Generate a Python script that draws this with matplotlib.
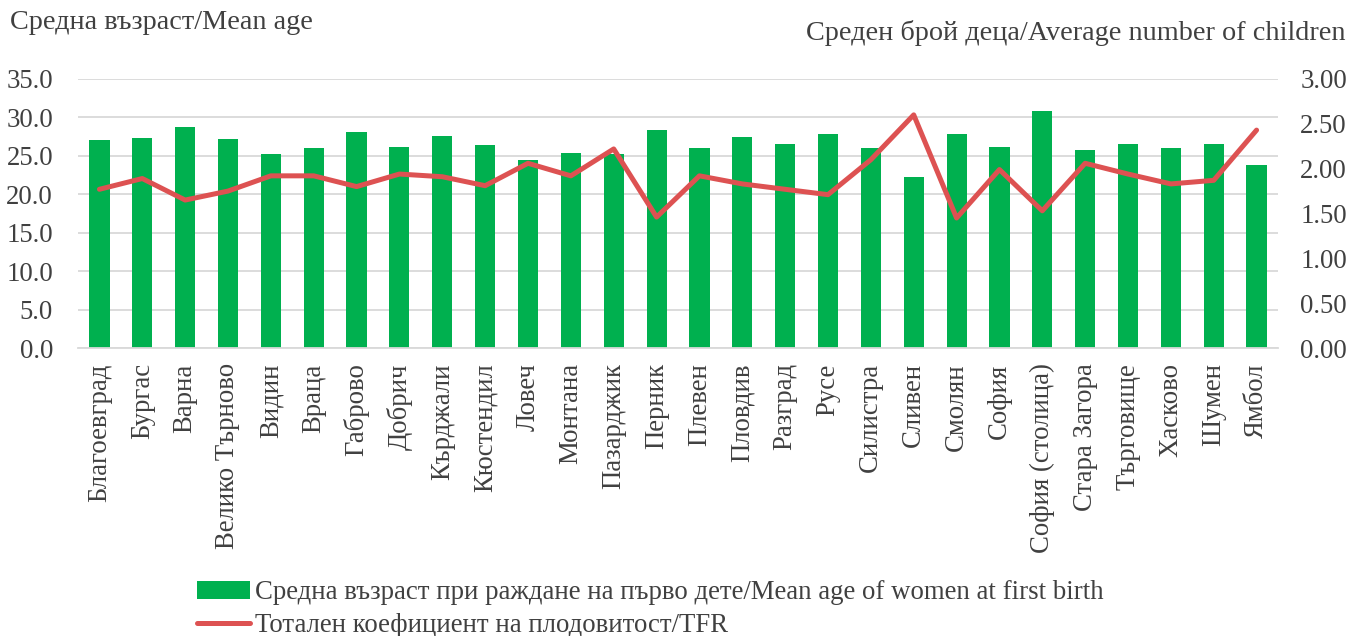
import matplotlib
matplotlib.use('Agg')
import matplotlib.pyplot as plt
import numpy as np

regions = ['Благоевград', 'Бургас', 'Варна', 'Велико Търново', 'Видин', 'Враца',
           'Габрово', 'Добрич', 'Кърджали', 'Кюстендил', 'Ловеч', 'Монтана',
           'Пазарджик', 'Перник', 'Плевен', 'Пловдив', 'Разград', 'Русе',
           'Силистра', 'Сливен', 'Смолян', 'София', 'София (столица)',
           'Стара Загора', 'Търговище', 'Хасково', 'Шумен', 'Ямбол']

mean_age = [27.0, 27.3, 28.7, 27.2, 25.3, 26.0, 28.1, 26.2, 27.6, 26.4, 24.5, 25.4,
            25.2, 28.4, 26.0, 27.5, 26.6, 27.9, 26.0, 22.2, 27.9, 26.2, 30.8,
            25.8, 26.5, 26.0, 26.5, 23.8]

tfr = [1.77, 1.89, 1.65, 1.75, 1.92, 1.92, 1.80, 1.94, 1.91, 1.81, 2.06, 1.92,
       2.22, 1.46, 1.92, 1.83, 1.77, 1.71, 2.10, 2.60, 1.45, 1.99, 1.53,
       2.06, 1.94, 1.83, 1.87, 2.43]

left_ticks = np.arange(0, 35.1, 5)
right_ticks = np.arange(0, 3.01, 0.5)

plt.rcParams['font.family'] = ['Liberation Serif', 'DejaVu Serif']
txt = '#404040'
green = '#00B04F'
red = '#DD5252'
grid = '#D9D9D9'
fs = 19.3

fig = plt.figure(figsize=(13.62, 6.36), dpi=100)
ax = fig.add_axes([78 / 1362, 1 - 348 / 636, 1200 / 1362, 269 / 636])
ax2 = ax.twinx()

x = np.arange(len(regions))
ax.bar(x, mean_age, width=0.47, color=green, zorder=2,
       label='Средна възраст при раждане на първо дете/Mean age of women at first birth')
ax2.plot(x, tfr, color=red, lw=3.6, solid_joinstyle='round', solid_capstyle='round',
         label='Тотален коефициент на плодовитост/TFR')

ax.set_xlim(-0.5, len(regions) - 0.5)
ax.set_ylim(0, 35)
ax2.set_ylim(0, 3)
ax.set_yticks(left_ticks)
ax.set_yticklabels([f'{v:.1f}' for v in left_ticks])
ax2.set_yticks(right_ticks)
ax2.set_yticklabels([f'{v:.2f}' for v in right_ticks])
ax.set_xticks(x)
ax.set_xticklabels(regions, rotation=90)

ax.yaxis.grid(True, color=grid, lw=1.3, zorder=0)
ax.set_axisbelow(True)
for a in (ax, ax2):
    for s in a.spines.values():
        s.set_visible(False)
    a.tick_params(length=0, labelsize=fs, colors=txt)
ax.spines['bottom'].set_visible(True)
ax.spines['bottom'].set_color(grid)
ax.spines['bottom'].set_linewidth(1.3)
ax.tick_params(axis='y', pad=18)
ax2.tick_params(axis='y', pad=16)
ax.tick_params(axis='x', pad=11)

fig.text(10 / 1362, 1 - 10 / 636, 'Средна възраст/Mean age', fontsize=20.3, color=txt,
         ha='left', va='top')
fig.text(1345 / 1362, 1 - 20 / 636, 'Среден брой деца/Average number of children',
         fontsize=20.3, color=txt, ha='right', va='top')

h1, l1 = ax.get_legend_handles_labels()
h2, l2 = ax2.get_legend_handles_labels()
fig.legend(h1 + h2, l1 + l2, loc='upper left', bbox_to_anchor=(184 / 1362, 1 - 567 / 636),
           frameon=False, fontsize=fs, labelcolor=txt, handlelength=1.95,
           handletextpad=0.2, labelspacing=0.28, borderpad=0)

fig.savefig('out.png', dpi=100)
